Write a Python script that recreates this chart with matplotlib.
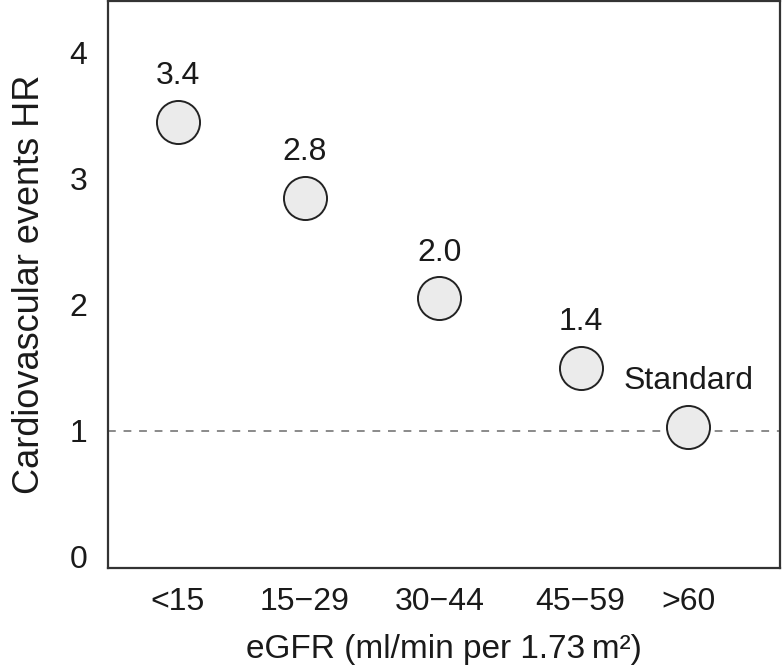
import numpy as np
import matplotlib
matplotlib.use('Agg')
import matplotlib.pyplot as plt

plt.rcParams['font.family'] = ['Liberation Sans', 'DejaVu Sans']

# data
groups = ['<15', '15\u221229', '30\u221244', '45\u221259', '>60']
xpos = [1.0, 2.0, 3.06, 4.17, 5.02]
hr = [3.45, 2.85, 2.05, 1.5, 1.03]
hr_labels = ['3.4', '2.8', '2.0', '1.4', 'Standard']

FS = 23

fig = plt.figure(figsize=(7.82, 6.65), dpi=100)
ax = fig.add_axes([0.138, 0.146, 0.8594, 0.852])

ax.axhline(1, color='#8a8a8a', linestyle=(0, (4, 4)), linewidth=1.4, zorder=1)
ax.plot(xpos, hr, linestyle='none', marker='o', markersize=31,
        markerfacecolor='#ebebeb', markeredgecolor='#222222',
        markeredgewidth=1.4, zorder=3)

for x, y, lab in zip(xpos, hr, hr_labels):
    ax.annotate(lab, (x, y), xytext=(0, 33), textcoords='offset points',
                ha='center', va='center', fontsize=FS, color='#1a1a1a')

ax.set_xlim(0.45, 5.74)
ax.set_ylim(-0.09, 4.41)
ax.set_xticks(xpos)
ax.set_xticklabels(groups)
ax.set_yticks([0, 1, 2, 3, 4])
ax.tick_params(length=0, labelsize=FS, colors='#1a1a1a')
ax.tick_params(axis='x', pad=14)
ax.tick_params(axis='y', pad=15)

for s in ax.spines.values():
    s.set_linewidth(1.6)
    s.set_color('#333333')

ax.set_xlabel('eGFR (ml/min per 1.73\u2009m\u00b2)', fontsize=24, labelpad=12,
              color='#1a1a1a')
ax.set_ylabel('Cardiovascular events HR', fontsize=26, labelpad=16, color='#1a1a1a')

fig.savefig('out.png', dpi=100)
